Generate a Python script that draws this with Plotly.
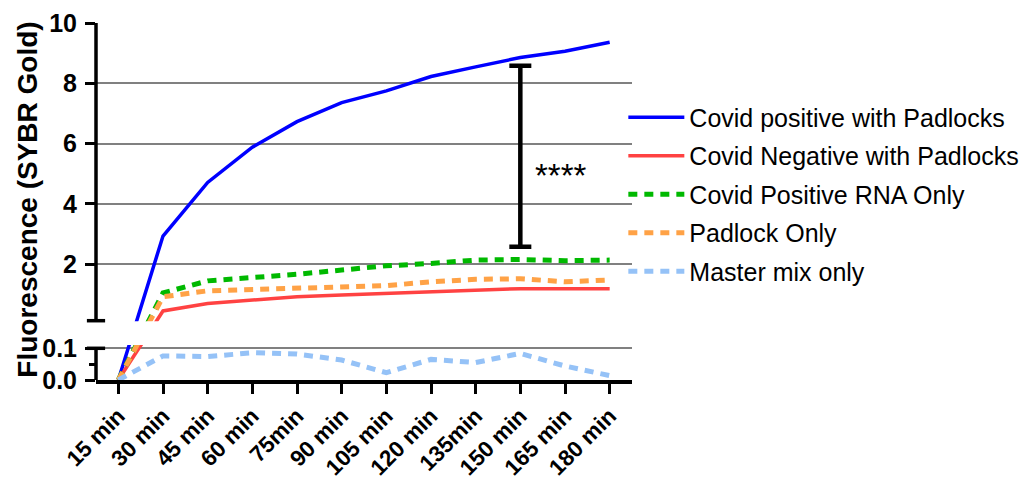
import plotly.graph_objects as go

# ---------------- data ----------------
categories = ["15 min", "30 min", "45 min", "60 min", "75min", "90 min",
              "105 min", "120 min", "135min", "150 min", "165 min", "180 min"]
covid_pos_padlocks = [0.0, 2.93, 4.71, 5.88, 6.73, 7.36, 7.75, 8.23, 8.55, 8.86, 9.07, 9.37]
covid_neg_padlocks = [0.0, 0.44, 0.69, 0.80, 0.91, 0.97, 1.02, 1.08, 1.13, 1.18, 1.18, 1.18]
covid_pos_rna_only = [0.0, 1.04, 1.44, 1.54, 1.66, 1.80, 1.94, 2.02, 2.13, 2.15, 2.11, 2.13]
padlock_only = [0.0, 0.91, 1.11, 1.16, 1.21, 1.24, 1.28, 1.41, 1.49, 1.51, 1.41, 1.47]
master_mix_only = [0.0, 0.076, 0.074, 0.086, 0.082, 0.063, 0.023, 0.065, 0.055, 0.084, 0.044, 0.014]

upper_ticks = [2, 4, 6, 8, 10]
upper_tick_labels = ["2", "4", "6", "8", "10"]
lower_ticks = [0.0, 0.1]
lower_tick_labels = ["0.0", "0.1"]
lower_minor_ticks = [0.05]

bracket_category = "150 min"
bracket_low, bracket_high = 2.57, 8.59
bracket_label = "****"
y_title = "Fluorescence (SYBR Gold)"

# ---------------- broken-axis scale ----------------
LOW_SCALE = 317.0     # axis units per data unit on lower segment
LOW_MAX = 0.1
UP_REF, UP_REF_T, UP_SCALE = 2.0, 116.0, 30.1
UP_BOTTOM_T = 59.3    # bottom edge of upper segment
LOW_VISIBLE_T = 35.0  # top edge of visible lower segment
T_MAX = 357.0


def to_axis(v):
    if v <= LOW_MAX:
        return v * LOW_SCALE
    return UP_REF_T + (v - UP_REF) * UP_SCALE


def to_upper(v):
    return UP_REF_T + (v - UP_REF) * UP_SCALE


FONT = "Arial, Liberation Sans, sans-serif"

series = [
    ("Covid positive with Padlocks", covid_pos_padlocks, "#0000FF", 3.5, "solid"),
    ("Covid Negative with Padlocks", covid_neg_padlocks, "#FF4242", 3.5, "solid"),
    ("Covid Positive RNA Only", covid_pos_rna_only, "#00B900", 5, "9px,7px"),
    ("Padlock Only", padlock_only, "#FFA246", 5, "9px,7px"),
    ("Master mix only", master_mix_only, "#95C2F7", 5, "9px,7px"),
]

fig = go.Figure()
for i, (name, vals, color, w, dash) in enumerate(series):
    fig.add_trace(go.Scatter(
        x=categories, y=[to_axis(v) for v in vals], mode="lines", name=name,
        line=dict(color=color, width=w, dash=dash), legendgroup=f"g{i}",
        hoverinfo="skip"))

# significance bracket
mid = (to_upper(bracket_low) + to_upper(bracket_high)) / 2
fig.add_trace(go.Scatter(
    x=[bracket_category], y=[mid], mode="markers", marker=dict(size=1, color="rgba(0,0,0,0)"),
    showlegend=False, hoverinfo="skip",
    error_y=dict(type="data", symmetric=False,
                 array=[to_upper(bracket_high) - mid],
                 arrayminus=[mid - to_upper(bracket_low)],
                 color="black", thickness=4.5, width=11)))
fig.add_annotation(x=bracket_category, y=to_upper((bracket_low + bracket_high) / 2),
                   text=bracket_label, showarrow=False, xanchor="left", yanchor="middle",
                   xshift=13, yshift=-19, font=dict(family=FONT, size=33, color="black"))

# y-axis title
fig.add_annotation(xref="paper", yref="paper", x=-0.127, y=0.505, text=y_title,
                   textangle=-90, showarrow=False, xanchor="center", yanchor="middle",
                   font=dict(family=FONT, size=28, color="black", weight="bold"))

shapes = []
# gap that hides the lines between segments
shapes.append(dict(type="rect", xref="paper", yref="y", x0=0.006, x1=1.0,
                   y0=LOW_VISIBLE_T, y1=UP_BOTTOM_T - 0.6, fillcolor="white",
                   line=dict(width=0), layer="above"))
# broken y axis line
for (a, b) in [(0, to_axis(LOW_MAX)), (UP_BOTTOM_T, T_MAX)]:
    shapes.append(dict(type="line", xref="paper", yref="y", x0=0, x1=0, y0=a, y1=b,
                       line=dict(color="black", width=3.5), layer="above"))
# break marks
for yv in [UP_BOTTOM_T, to_axis(LOW_MAX)]:
    shapes.append(dict(type="line", xref="paper", yref="y", x0=-0.017, x1=0.017,
                       y0=yv, y1=yv, line=dict(color="black", width=3.5), layer="above"))
fig.update_layout(shapes=shapes)

tickvals = [to_axis(v) for v in lower_ticks] + [to_upper(v) for v in upper_ticks]
ticktext = lower_tick_labels + upper_tick_labels

fig.update_layout(
    width=1035, height=481,
    margin=dict(l=96, r=402, t=23, b=101),
    paper_bgcolor="white", plot_bgcolor="white",
    font=dict(family=FONT, color="black"),
    showlegend=True,
    legend=dict(x=0.982, y=0.80, xanchor="left", yanchor="top",
                font=dict(family=FONT, size=25, color="black"),
                tracegroupgap=3, itemwidth=56, bgcolor="rgba(0,0,0,0)"),
    xaxis=dict(range=[-0.5, 11.5], showline=True, linecolor="black", linewidth=3.5,
               ticks="outside", ticklen=10, tickwidth=3, tickcolor="black",
               tickangle=-45, showgrid=False, zeroline=False, automargin=False,
               ticklabelstandoff=0,
               tickfont=dict(family=FONT, size=22.5, color="black", weight="bold")),
    yaxis=dict(range=[0, T_MAX], tickmode="array", tickvals=tickvals, ticktext=ticktext,
               showline=False, ticks="outside", ticklen=10, tickwidth=3, tickcolor="black",
               showgrid=True, gridcolor="#808080", gridwidth=2, zeroline=False,
               ticklabelstandoff=3, automargin=False,
               tickfont=dict(family=FONT, size=25, color="black", weight="bold"),
               minor=dict(tickmode="array", tickvals=[to_axis(v) for v in lower_minor_ticks],
                          ticks="outside", ticklen=6, tickwidth=3, tickcolor="black",
                          showgrid=False)),
)

fig.write_html("out.html")
